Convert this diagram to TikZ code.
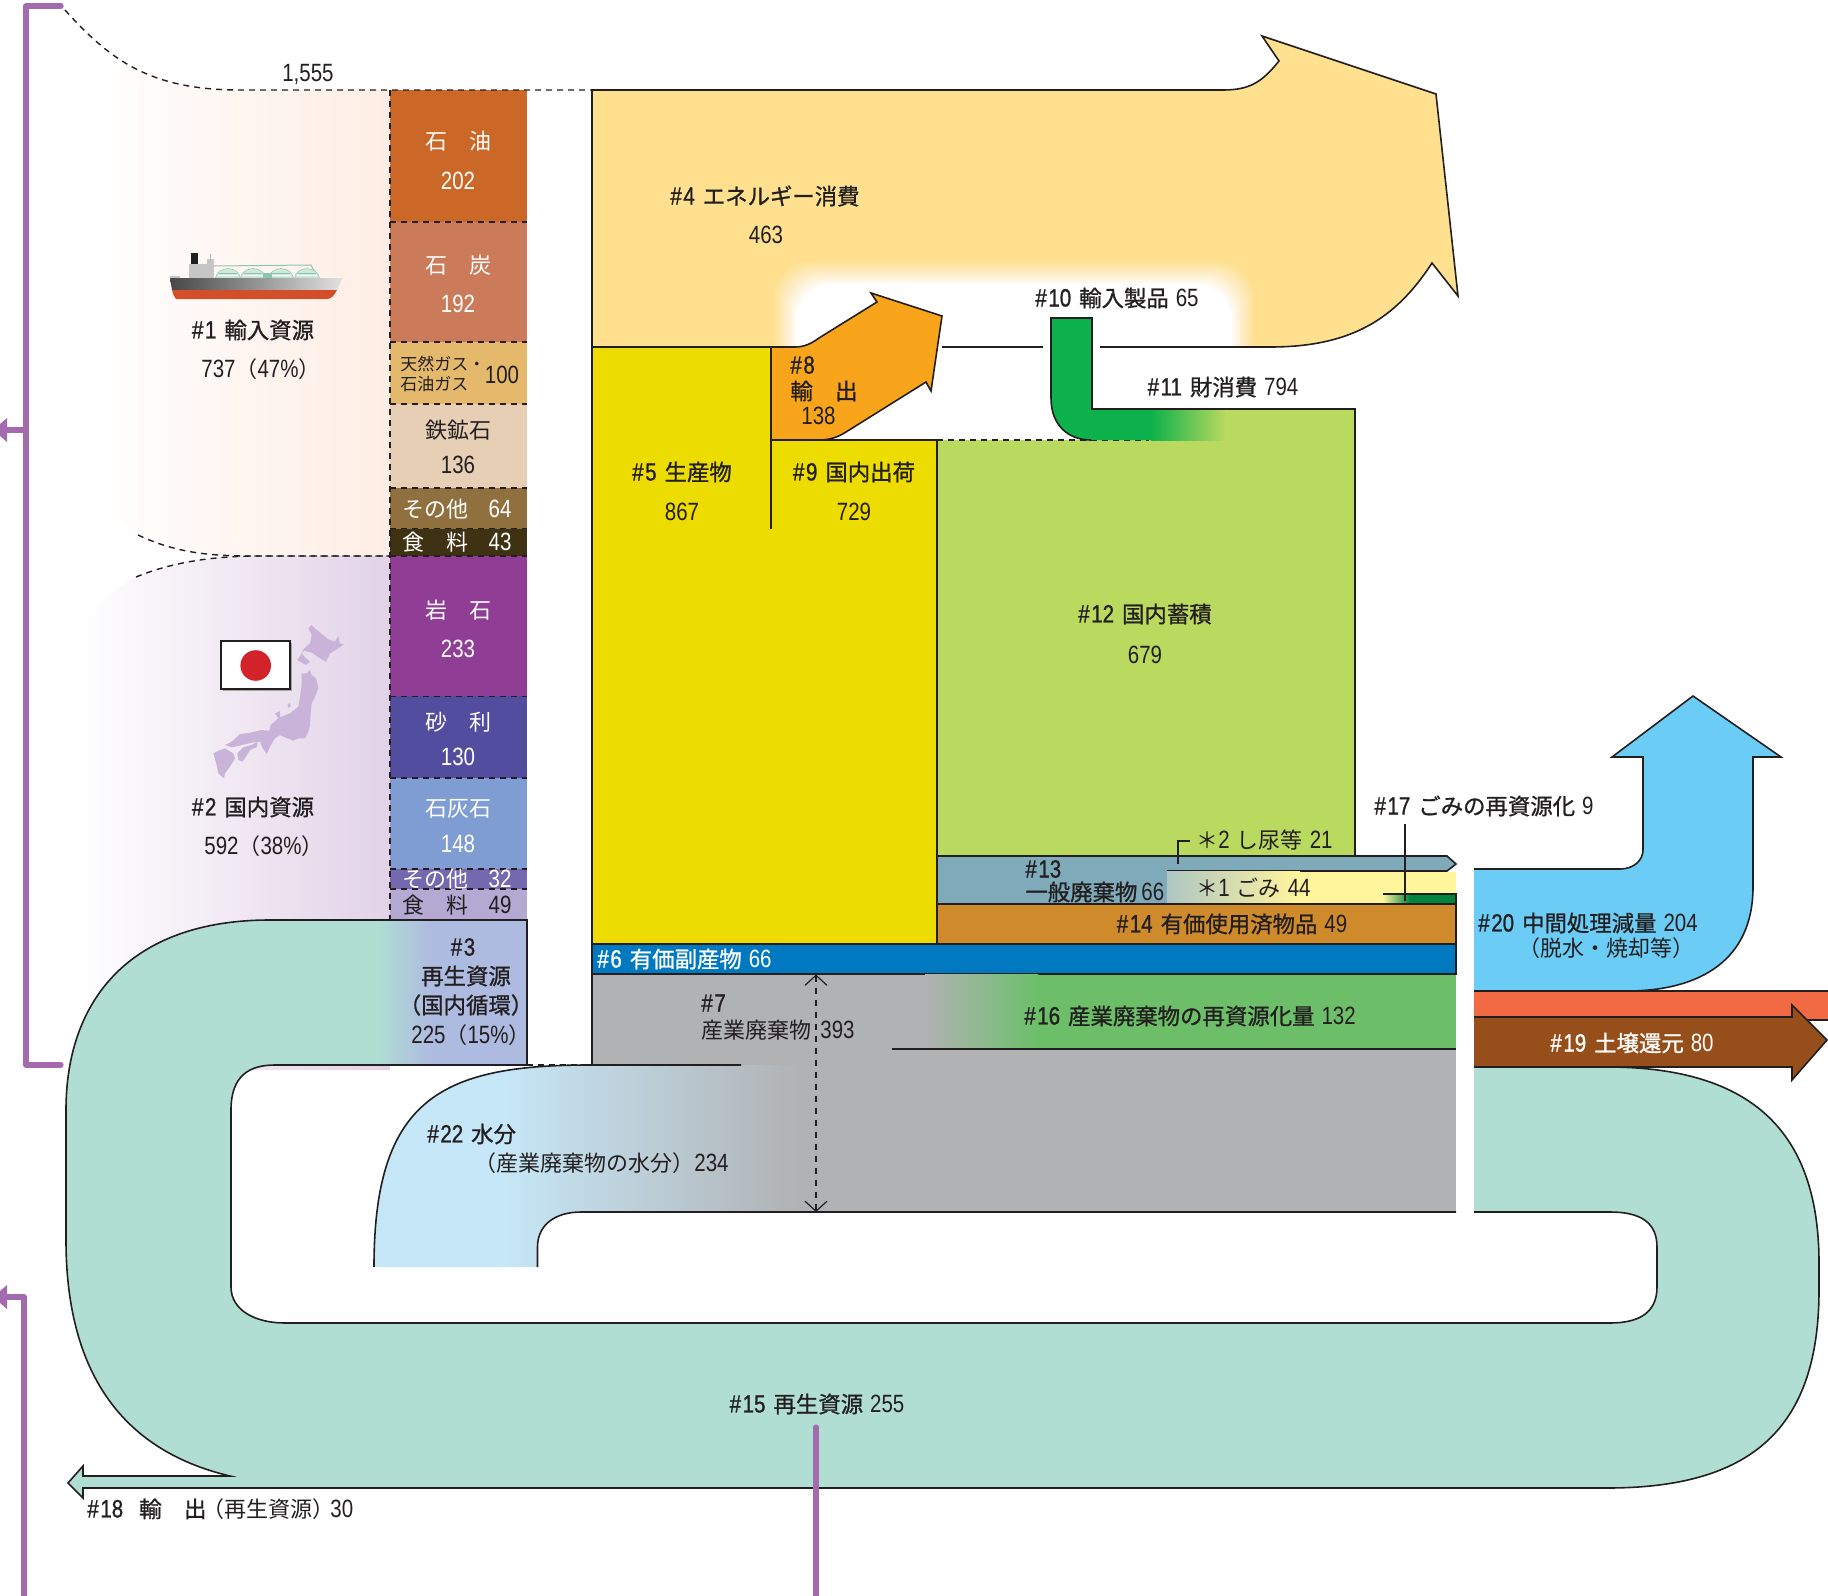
\documentclass[tikz,border=0pt]{standalone}
\usepackage{fontspec}
\usetikzlibrary{arrows.meta}
\setmainfont{Liberation Sans}
\newfontfamily\jpfont{Noto Sans CJK JP}
\newfontfamily\jpbold{Noto Sans CJK JP}[FakeBold=1]
\newfontfamily\numfont{Liberation Sans}[FakeStretch=0.82]
\newfontfamily\numbold{Liberation Sans}[FakeStretch=0.82,FakeBold=1]
\newcommand\jj[1]{{\jpfont\fontsize{11}{13}\selectfont #1}}
\newcommand\js[1]{{\jpfont\fontsize{8.5}{10}\selectfont #1}}
\newcommand\jb[1]{{\jpbold\fontsize{11.2}{13}\selectfont #1}}
\newcommand\nn[1]{{\numfont\fontsize{12.5}{14}\selectfont #1}}
\newcommand\nb[1]{{\numbold\fontsize{12.5}{14}\selectfont\#\hspace{0.8pt}#1}}
\newcommand\hh[2]{\nb{#1}\hspace{4pt}\jb{#2}}
\newcommand\gapp{\hspace{3.5pt}}
\definecolor{ink}{HTML}{231F20}
\definecolor{cBgA}{HTML}{FEEDE4}
\definecolor{cBgB}{HTML}{F1EAF5}
\definecolor{cBgC}{HTML}{E2D2E7}
\definecolor{cFadeG}{HTML}{AFC6C2}
\definecolor{cTank}{HTML}{CDE9DA}
\definecolor{cTankL}{HTML}{8CC4AC}
\definecolor{cHull}{HTML}{D34F2A}
\definecolor{cSun}{HTML}{D2232A}
\definecolor{cOil}{HTML}{CB6828}
\definecolor{cCoal}{HTML}{CB7A5A}
\definecolor{cGas}{HTML}{E5B96C}
\definecolor{cIron}{HTML}{E7CFB6}
\definecolor{cOth}{HTML}{917040}
\definecolor{cFood}{HTML}{3F3212}
\definecolor{cRock}{HTML}{8F3D95}
\definecolor{cGrav}{HTML}{534D9F}
\definecolor{cLime}{HTML}{7F9DD2}
\definecolor{cOthB}{HTML}{7468AE}
\definecolor{cFoodB}{HTML}{B3A9D2}
\definecolor{cRec}{HTML}{AEBBE0}
\definecolor{cEnergy}{HTML}{FEE08F}
\definecolor{cProd}{HTML}{EDDC00}
\definecolor{cExp}{HTML}{F9A51B}
\definecolor{cStock}{HTML}{BAD95F}
\definecolor{cImp}{HTML}{0DB14B}
\definecolor{cGen}{HTML}{7EAAB9}
\definecolor{cUsed}{HTML}{CF8A2C}
\definecolor{cBy}{HTML}{0079C1}
\definecolor{cInd}{HTML}{B1B2B4}
\definecolor{cReInd}{HTML}{6CBF68}
\definecolor{cBand}{HTML}{B0DED2}
\definecolor{cRed}{HTML}{6BCDF6}
\definecolor{cOrange}{HTML}{F26A44}
\definecolor{cSoil}{HTML}{964F1A}
\definecolor{cWater}{HTML}{C6E7F7}
\definecolor{cGomi}{HTML}{FFF59D}
\definecolor{cDark}{HTML}{00843D}
\definecolor{cPur}{HTML}{A36AAD}
\definecolor{cMap}{HTML}{C9B3D8}
\newcommand\bandpath{(1474,1067) -- (1607,1067) .. controls (1750,1067) and (1819,1130) .. (1819,1263) -- (1819,1290) .. controls (1819,1430) and (1750,1488) .. (1607,1488) -- (83,1488) -- (83,1498) -- (68,1483) -- (83,1466) -- (83,1476) -- (230,1476) .. controls (120,1450) and (66,1370) .. (66,1240) -- (66,1110) .. controls (66,1000) and (130,920) .. (270,920) -- (527,920) -- (527,1065) -- (275,1065) .. controls (250,1065) and (231,1075) .. (231,1110) -- (231,1287) .. controls (231,1310) and (255,1323) .. (285,1323) -- (1610,1323) .. controls (1640,1323) and (1657,1312) .. (1657,1287) -- (1657,1247) .. controls (1657,1222) and (1640,1212) .. (1610,1212) -- (1474,1212)}
\newcommand\waterpath{(374,1267) .. controls (374,1100) and (440,1065) .. (589,1065) -- (800,1065) -- (800,1212) -- (581,1212) .. controls (555,1212) and (537.5,1225) .. (537.5,1247) -- (537.5,1267) -- cycle}
\tikzset{
  lab/.style={inner sep=0pt,align=center,text=ink},
  labw/.style={inner sep=0pt,align=center,text=white},
  edge/.style={draw=ink,line width=0.8pt,line join=miter},
  dashline/.style={draw=ink,line width=0.7pt,dash pattern=on 3pt off 2.5pt},
  pur/.style={draw=cPur,line width=2.6pt,line cap=round,line join=round}
}
\begin{document}
\begin{tikzpicture}[x=0.5pt,y=-0.5pt]
\useasboundingbox (0,0) rectangle (1828,1596);
% soft backgrounds
\begin{scope}
\clip (65,10) .. controls (110,60) and (150,90) .. (240,90) -- (390,90) -- (390,556) -- (250,556) .. controls (200,556) and (170,550) .. (138,535) .. controls (115,523) and (100,505) .. (95,490) -- (65,490) -- cycle;
\shade[left color=white,right color=cBgA] (95,0) rectangle (390,560);
\end{scope}
\begin{scope}
\clip (390,556) -- (260,556) .. controls (210,556) and (170,563) .. (136,577) .. controls (110,590) and (95,610) .. (81,626) -- (81,1070) -- (390,1070) -- cycle;
\shade[left color=white,middle color=cBgB,right color=cBgC] (81,550) rectangle (390,1070);
\end{scope}
% column cells
\foreach \ya/\yb/\cc in {90/222/cOil,222/342/cCoal,342/404/cGas,404/488/cIron,488/528.6/cOth,528.6/556/cFood,556/696.4/cRock,696.4/778/cGrav,778/869/cLime,869/889/cOthB,889/919/cFoodB}{
  \fill[\cc] (390,\ya) rectangle (527,\yb);
}
\foreach \yy in {222,342,404,488,528.6,556,696.4,778,869,889}{
  \draw[dashline] (390,\yy) -- (527,\yy);
}
\draw[dashline] (390,90) -- (390,919);
\draw[dashline] (65,10) .. controls (110,60) and (150,90) .. (240,90) -- (592,90);
\draw[dashline] (138,535) .. controls (170,550) and (200,556) .. (250,556) -- (390,556);
\draw[dashline] (136,577) .. controls (170,563) and (210,556) .. (260,556) -- (390,556);
% band 15 with gradient into 3
\fill[cBand] \bandpath -- cycle;
\fill[cRec] (431,920) rectangle (527,1065);
\shade[left color=cBand,right color=cRec] (376,920) rectangle (431,1065);
\draw[edge] \bandpath;
% 4 energy
\fill[cEnergy] (592,90) -- (1223,90) .. controls (1250,90) and (1262,82) .. (1279,61) -- (1262,36) -- (1436,94) -- (1458,296) -- (1432,263) .. controls (1395,320) and (1350,347) .. (1270,347) -- (592,347) -- cycle;
\begin{scope}
\clip (771,200) rectangle (1300,347);
\foreach \i in {1,...,12}{
  \pgfmathsetmacro\op{1/(13-\i)}
  \fill[white,opacity=\op,rounded corners=18pt] (772+2*\i,400) -- (772+2*\i,260+2*\i) -- (1256-2*\i,260+2*\i) -- (1256-2*\i,400) -- cycle;
}
\end{scope}
\draw[edge] (592,347) -- (592,90) -- (1223,90) .. controls (1250,90) and (1262,82) .. (1279,61) -- (1262,36) -- (1436,94) -- (1458,296) -- (1432,263) .. controls (1395,320) and (1350,347) .. (1270,347) -- (1100,347);
\draw[edge] (942,347) -- (1043,347);
% 12 stock
\fill[cStock] (937,440) -- (1226,440) -- (1226,409) -- (1355,409) -- (1355,856) -- (937,856) -- cycle;
\draw[edge] (1092,409) -- (1355,409) -- (1355,856);
% 5 product
\fill[cProd] (592,347) -- (771,347) -- (771,440) -- (937,440) -- (937,944) -- (592,944) -- cycle;
\draw[edge] (771,347) -- (592,347) -- (592,944) -- (937,944) -- (937,440) -- (771,440);
\draw[edge] (771,347) -- (771,529);
% 8 export
\filldraw[edge,fill=cExp] (771,347) -- (795,347) .. controls (805,347) and (812,343) .. (819,338) -- (877,302) -- (871,293) -- (942,316) -- (931,391) -- (926,382) -- (846,432) .. controls (838,437) and (830,440) .. (819,440) -- (771,440) -- cycle;
\draw[dashline] (937,440) -- (1149,440);
% 10 import
\fill[cImp] (1051,318) -- (1092,318) -- (1092,409) -- (1151,409) -- (1151,440) -- (1091,440) .. controls (1068,440) and (1051,425) .. (1051,398) -- cycle;
\shade[left color=cImp,right color=cStock] (1151,409) rectangle (1226,440);
\draw[edge] (1091,440) .. controls (1068,440) and (1051,425) .. (1051,398) -- (1051,318) -- (1092,318) -- (1092,409) -- (1226,409);
% 13 and *2
\filldraw[edge,fill=cGen] (1167,871) -- (1447,871) -- (1456,864) -- (1447,856) -- (937,856) -- (937,904) -- (1167,904);
% *1
\fill[cGomi] (1300,871.5) rectangle (1456,904);
\shade[left color=cFadeG,right color=cGomi] (1167,871.5) rectangle (1300,904);
\fill[cDark] (1410,894) rectangle (1456,904);
\shade[left color=cGomi,right color=cDark] (1383,894) rectangle (1410,904);
\draw[edge] (1383,894) -- (1456,894) -- (1456,904);
\draw[edge] (1178,864) -- (1178,841) -- (1190,841);
\draw[edge] (1405,824) -- (1405,901);
% 14
\filldraw[edge,fill=cUsed] (937,904) -- (1456,904) -- (1456,944) -- (937,944) -- cycle;
% 7 gray
\fill[cInd] (592,974) rectangle (1456,1212);
% 6
\filldraw[edge,fill=cBy] (592,944) -- (1456,944) -- (1456,974) -- (592,974) -- cycle;
% 16
\fill[cReInd] (1038,974.5) rectangle (1456,1049);
\shade[left color=cInd,right color=cReInd] (925,974.5) rectangle (1038,1049);
\draw[edge] (892,1049) -- (1456,1049);
% 22 water
\begin{scope}
\clip \waterpath;
\fill[cWater] (370,1060) rectangle (503,1270);
\shade[left color=cWater,right color=cInd] (503,1060) rectangle (800,1270);
\end{scope}
\draw[edge] (374,1267) .. controls (374,1100) and (440,1065) .. (589,1065) -- (741,1065);
\draw[edge] (537.5,1267) -- (537.5,1247) .. controls (537.5,1225) and (555,1212) .. (581,1212) -- (1456,1212);
\draw[edge] (592,974) -- (592,1065);
\draw[dashline] (527,1065) -- (592,1065);
\draw[edge,dashed,line width=0.6pt,{Straight Barb[length=5pt,width=11pt]}-{Straight Barb[length=5pt,width=11pt]}] (816,974.5) -- (816,1212);
% white gap
\fill[white] (1456.5,860) rectangle (1474,1212);
% 20
\filldraw[edge,fill=cRed] (1474,869) -- (1620,869) .. controls (1634,869) and (1643,860) .. (1643,850) -- (1643,757) -- (1612,757) -- (1693,696) -- (1781,757) -- (1753,757) -- (1753,887) .. controls (1753,960) and (1700,991) .. (1627,991) -- (1474,991);
% red bar
\fill[cOrange] (1474,991) rectangle (1828,1020);
\draw[edge] (1474,991) -- (1828,991);
\draw[edge] (1792,1020) -- (1828,1020);
% 19
\filldraw[edge,fill=cSoil] (1474,1017) -- (1792,1017) -- (1792,1005) -- (1827,1040) -- (1792,1080) -- (1792,1067) -- (1474,1067);
% purple brackets
\draw[pur] (61,6) -- (26,6) -- (26,1065) -- (61,1065);
\draw[pur] (26,430) -- (5,430);
\fill[cPur] (7,418) -- (7,442) -- (0,436) -- (0,424) -- cycle;
\draw[pur] (24,1596) -- (24,1297) -- (5,1297);
\fill[cPur] (7,1285) -- (7,1309) -- (0,1303) -- (0,1291) -- cycle;
\draw[pur] (816,1427) -- (816,1596);
% ship
\fill[black!88] (191,253) rectangle (198,264);
\fill[gray!45] (189,264) rectangle (214,278);
\fill[gray!45] (207,259) rectangle (214,264);
\draw[gray!55,line width=0.7pt] (210.5,254) -- (210.5,259);
\draw[cTankL,line width=0.5pt] (214,266) -- (311,265) -- (318,278);
\foreach \cx in {228,253,281,307}{
  \filldraw[fill=cTank,draw=cTankL,line width=0.25pt] (\cx-12.5,278) .. controls (\cx-10,265.5) and (\cx+10,265.5) .. (\cx+12.5,278) -- cycle;
  \draw[cTankL,line width=0.4pt] (\cx-9,273) -- (\cx+9,273);
  \draw[white,line width=0.5pt] (\cx-10,275.5) -- (\cx+10,275.5);
}
\fill[cTankL] (263,273) rectangle (272,278);
\shade[left color=black!72,middle color=black!62,right color=black!12] (170,278) -- (342.5,278) -- (337,290) -- (172,290) -- cycle;
\fill[cHull] (172,290) -- (337,290) .. controls (334,296) and (331,299) .. (327,299) -- (176,299) .. controls (174,297) and (173,294) .. (172,290) -- cycle;
\fill[gray!45] (170,276) rectangle (180,278);
% flag
\fill[gray!70] (223,643) rectangle (291.5,690.5);
\filldraw[fill=white,draw=ink,line width=0.6pt] (221,641) rectangle (290,689);
\fill[cSun] (255.7,665.5) circle (15.3);
% Japan
\begin{scope}[shift={(200,610)},x=0.1667pt,y=-0.1667pt]
\fill[cMap] (335,45) -- (345,55) -- (365,72) -- (385,88) -- (405,95) -- (415,78) -- (420,100) -- (432,103) -- (410,118) -- (390,130) -- (378,155) -- (360,145) -- (335,128) -- (312,122) -- (305,130) -- (318,145) -- (330,155) -- (318,165) -- (300,155) -- (292,150) -- (305,130) -- (310,118) -- (330,100) -- (335,75) -- (325,55) -- cycle;
\fill[cMap] (305,190) -- (320,190) -- (330,180) -- (335,195) -- (348,205) -- (355,235) -- (345,260) -- (335,280) -- (332,310) -- (330,345) -- (325,365) -- (315,385) -- (295,385) -- (280,392) -- (262,385) -- (240,375) -- (225,385) -- (210,410) -- (200,432) -- (188,415) -- (180,395) -- (155,398) -- (125,405) -- (95,412) -- (75,405) -- (95,395) -- (120,372) -- (150,368) -- (185,360) -- (208,362) -- (212,345) -- (235,325) -- (225,310) -- (240,303) -- (240,322) -- (270,310) -- (295,290) -- (300,260) -- (305,225) -- cycle;
\fill[cMap] (112,430) -- (130,412) -- (155,405) -- (172,395) -- (172,410) -- (150,420) -- (128,455) -- (115,450) -- cycle;
\fill[cMap] (40,430) -- (60,420) -- (75,415) -- (100,430) -- (105,445) -- (90,470) -- (75,490) -- (72,505) -- (55,490) -- (50,465) -- cycle;
\fill[cMap] (262,285) -- (270,278) -- (272,290) -- (265,293) -- cycle;
\end{scope}
% labels
\node[lab] (total) at (308,74) {\nn{1,555}};
\node[labw] (oil) at (458,141) {\jj{石　油}};
\node[labw] (oilv) at (458,181) {\nn{202}};
\node[labw] (coal) at (458,265) {\jj{石　炭}};
\node[labw] (coalv) at (458,304) {\nn{192}};
\node[lab,anchor=west] (gasa) at (400,364) {\js{天然ガス・}};
\node[lab,anchor=west] (gasb) at (400,384) {\js{石油ガス}};
\node[lab] (gasv) at (502,375) {\nn{100}};
\node[lab] (iron) at (458,430) {\jj{鉄鉱石}};
\node[lab] (ironv) at (458,465) {\nn{136}};
\node[labw] (oth) at (435,509) {\jj{その他}};
\node[labw] (othv) at (500,509) {\nn{64}};
\node[labw] (food) at (435,542) {\jj{食　料}};
\node[labw] (foodv) at (500,542) {\nn{43}};
\node[labw] (rock) at (458,610) {\jj{岩　石}};
\node[labw] (rockv) at (458,649) {\nn{233}};
\node[labw] (grav) at (458,722) {\jj{砂　利}};
\node[labw] (gravv) at (458,757) {\nn{130}};
\node[labw] (lime) at (458,809) {\jj{石灰石}};
\node[labw] (limev) at (458,844) {\nn{148}};
\node[labw] (othb) at (435,879) {\jj{その他}};
\node[labw] (othbv) at (500,879) {\nn{32}};
\node[lab] (foodb) at (435,905) {\jj{食　料}};
\node[lab] (foodbv) at (500,905) {\nn{49}};
\node[lab] (n3a) at (463,947) {\nb{3}};
\node[lab] (n3b) at (466,976) {\jb{再生資源}};
\node[lab] (n3c) at (466,1005) {\jb{（国内循環）}};
\node[lab] (n3d) at (471,1035) {\nn{225}\jj{（}\nn{15\%}\jj{）}};
\node[lab] (n1a) at (253,330) {\hh{1}{輸入資源}};
\node[lab] (n1b) at (261,369) {\nn{737}\jj{（}\nn{47\%}\jj{）}};
\node[lab] (n2a) at (253,807) {\hh{2}{国内資源}};
\node[lab] (n2b) at (264,846) {\nn{592}\jj{（}\nn{38\%}\jj{）}};
\node[lab] (n4a) at (765,196) {\hh{4}{エネルギー消費}};
\node[lab] (n4b) at (766,235) {\nn{463}};
\node[lab] (n5a) at (682,472) {\hh{5}{生産物}};
\node[lab] (n5b) at (682,512) {\nn{867}};
\node[lab,anchor=west] (n8a) at (790,365) {\nb{8}};
\node[lab,anchor=west] (n8b) at (790,391) {\jb{輸　出}};
\node[lab,anchor=west] (n8c) at (801,416) {\nn{138}};
\node[lab] (n9a) at (854,472) {\hh{9}{国内出荷}};
\node[lab] (n9b) at (854,512) {\nn{729}};
\node[lab] (n10) at (1117,298) {\hh{10}{輸入製品}\gapp\nn{65}};
\node[lab] (n11) at (1223,387) {\hh{11}{財消費}\gapp\nn{794}};
\node[lab] (n12a) at (1145,614) {\hh{12}{国内蓄積}};
\node[lab] (n12b) at (1145,655) {\nn{679}};
\node[lab,anchor=west] (n13a) at (1025,869) {\nb{13}};
\node[lab,anchor=west] (n13b) at (1025,892) {\jb{一般廃棄物}\hspace{2pt}\nn{66}};
\node[lab,anchor=west] (st2) at (1196,840) {\jj{＊}\nn{2}\gapp\jj{し尿等}\gapp\nn{21}};
\node[lab,anchor=west] (st1) at (1196,888) {\jj{＊}\nn{1}\gapp\jj{ごみ}\gapp\nn{44}};
\node[lab] (n14) at (1232,924) {\hh{14}{有価使用済物品}\gapp\nn{49}};
\node[labw,anchor=west] (n6) at (597,959) {\hh{6}{有価副産物}\gapp\nn{66}};
\node[lab,anchor=west] (n7a) at (701,1003) {\nb{7}};
\node[lab,anchor=west] (n7b) at (701,1030) {\jj{産業廃棄物}\hspace{4.5pt}\nn{393}};
\node[lab] (n16) at (1190,1016) {\hh{16}{産業廃棄物の再資源化量}\gapp\nn{132}};
\node[lab] (n17) at (1484,806) {\hh{17}{ごみの再資源化}\gapp\nn{9}};
\node[lab] (n20a) at (1588,923) {\hh{20}{中間処理減量}\gapp\nn{204}};
\node[lab] (n20b) at (1606,948) {\jj{（脱水・焼却等）}};
\node[labw] (n19) at (1632,1043) {\hh{19}{土壌還元}\gapp\nn{80}};
\node[lab,anchor=west] (n22a) at (427,1134) {\hh{22}{水分}};
\node[lab,anchor=west] (n22b) at (474,1163) {\jj{（産業廃棄物の水分）}\nn{234}};
\node[lab] (n15) at (817,1404) {\hh{15}{再生資源}\gapp\nn{255}};
\node[lab,anchor=west] (n18) at (87,1509) {\hh{18}{\hspace{4pt}輸　出}\hspace{-2pt}\jj{（再生資源）}\hspace{-2pt}\nn{30}};
\end{tikzpicture}
\end{document}
